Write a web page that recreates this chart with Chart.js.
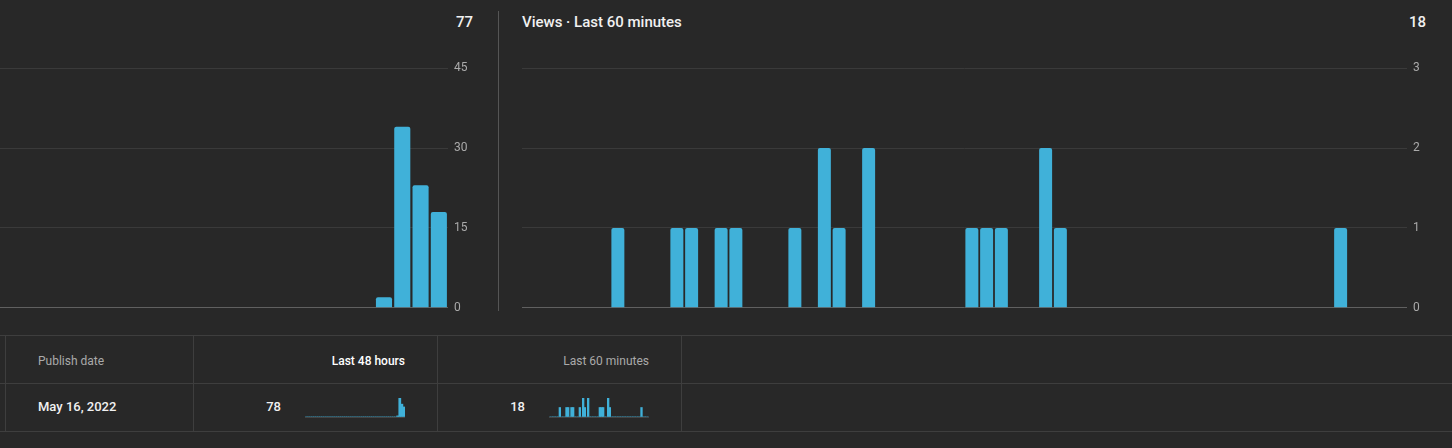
<!DOCTYPE html>
<html>
<head>
<meta charset="utf-8">
<script src="https://cdn.jsdelivr.net/npm/chart.js@4"></script>
<style>
    body{
        margin:0;
        width:1452px;
        height:448px;
        background:#282828;
        overflow:hidden;
        position:relative;
        font-family:Roboto, "Noto Sans", sans-serif;
    }
    canvas, .txt, .garis{ position:absolute; }
    .txt{ white-space:nowrap; line-height:1; }
    .garis{ background:#3e3e3e; }
</style>
</head>
<body>

<canvas id="chart48" width="908" height="266" style="left:-430px;top:55px"></canvas>
<canvas id="chart60" width="920" height="266" style="left:522px;top:55px"></canvas>

<div class="txt" style="right:979px;top:15px;font-size:15px;font-weight:500;color:#f1f1f1">77</div>
<div class="txt" style="left:522px;top:15px;font-size:15px;font-weight:500;color:#f1f1f1">Views · Last 60 minutes</div>
<div class="txt" style="right:26px;top:15px;font-size:15px;font-weight:500;color:#f1f1f1">18</div>

<!-- pemisah antar grafik -->
<div class="garis" style="left:498px;top:11px;width:1px;height:300px;background:#555"></div>

<!-- tabel -->
<div class="garis" style="left:0;top:335px;width:1452px;height:1px"></div>
<div class="garis" style="left:0;top:383px;width:1452px;height:1px"></div>
<div class="garis" style="left:0;top:431px;width:1452px;height:1px"></div>
<div class="garis" style="left:5px;top:335px;width:1px;height:96px"></div>
<div class="garis" style="left:193px;top:335px;width:1px;height:96px"></div>
<div class="garis" style="left:437px;top:335px;width:1px;height:96px"></div>
<div class="garis" style="left:681px;top:335px;width:1px;height:96px"></div>

<div class="txt" style="left:38px;top:355px;font-size:12px;color:#aaa">Publish date</div>
<div class="txt" style="right:1047px;top:355px;font-size:12px;font-weight:500;color:#fff">Last 48 hours</div>
<div class="txt" style="right:803px;top:355px;font-size:12px;color:#aaa">Last 60 minutes</div>

<div class="txt" style="left:38px;top:400px;font-size:13px;font-weight:500;color:#f1f1f1">May 16, 2022</div>
<div class="txt" style="right:1171px;top:400px;font-size:13px;font-weight:500;color:#f1f1f1">78</div>
<div class="txt" style="right:927px;top:400px;font-size:13px;font-weight:500;color:#f1f1f1">18</div>

<canvas id="mini48" width="100" height="22" style="left:305px;top:396px"></canvas>
<canvas id="mini60" width="100" height="22" style="left:549px;top:396px"></canvas>

<script>
// label jam (48) dan menit (60)
const labelJam = Array.from({length:48}, (_,i) => (47 - i) + "h");
const labelMenit = Array.from({length:60}, (_,i) => (59 - i) + "m");

// views per jam, 48 jam terakhir
const viewsJam = [
    0,0,0,0,0,0,0,0,0,0,0,0,
    0,0,0,0,0,0,0,0,0,0,0,0,
    0,0,0,0,0,0,0,0,0,0,0,0,
    0,0,0,0,0,0,0,0,2,34,23,18
];

// views per menit, 60 menit terakhir
const viewsMenit = [
    0,0,0,0,0,0,1,0,0,0,
    1,1,0,1,1,0,0,0,1,0,
    2,1,0,2,0,0,0,0,0,0,
    1,1,1,0,0,2,1,0,0,0,
    0,0,0,0,0,0,0,0,0,0,
    0,0,0,0,0,1,0,0,0,0
];

const tickJam = [0, 15, 30, 45];
const tickMenit = [0, 1, 2, 3];

const warnaBar = "#40b1d9";

function buatGrafik(id, labels, data, ticks, lebarSumbu){

    new Chart(document.getElementById(id), {
        type:"bar",
        data:{
            labels:labels,
            datasets:[{
                data:data,
                backgroundColor:warnaBar,
                borderRadius:2,
                borderSkipped:"start",
                categoryPercentage:1,
                barPercentage:0.88
            }]
        },
        options:{
            responsive:false,
            animation:false,
            layout:{ padding:{ top:9, bottom:5 } },
            plugins:{ legend:{display:false}, tooltip:{enabled:false} },
            scales:{
                x:{ display:false },
                y:{
                    position:"right",
                    min:0,
                    max:ticks[ticks.length-1],
                    afterFit: s => { s.width = lebarSumbu; },
                    afterBuildTicks: s => {
                        s.ticks = ticks.map(v => ({value:v}));
                    },
                    border:{ display:false },
                    grid:{
                        drawTicks:false,
                        color: c => c.tick && c.tick.value === 0 ? "#606060" : "#3a3a3a"
                    },
                    ticks:{
                        padding:6,
                        color:"#aaa",
                        font:{ family:"Roboto", size:12 }
                    }
                }
            }
        }
    });
}

// grafik kecil di tabel
function buatMini(id, labels, data){

    new Chart(document.getElementById(id), {
        type:"bar",
        data:{
            labels:labels,
            datasets:[{
                data:data,
                backgroundColor:warnaBar,
                categoryPercentage:1,
                barPercentage:1
            }]
        },
        options:{
            responsive:false,
            animation:false,
            layout:{ padding:{ top:2, bottom:1, left:0, right:0 } },
            plugins:{ legend:{display:false}, tooltip:{enabled:false} },
            scales:{
                x:{ display:false },
                y:{
                    min:0,
                    max:Math.max(...data),
                    afterFit: s => { s.width = 0; },
                    afterBuildTicks: s => { s.ticks = [{value:0}]; },
                    border:{ display:false },
                    grid:{ drawTicks:false, color:"#444" },
                    ticks:{ display:false }
                }
            }
        }
    });
}

buatGrafik("chart48", labelJam, viewsJam, tickJam, 30);
buatGrafik("chart60", labelMenit, viewsMenit, tickMenit, 35);

buatMini("mini48", labelJam, viewsJam);
buatMini("mini60", labelMenit, viewsMenit);
</script>
</body>
</html>
